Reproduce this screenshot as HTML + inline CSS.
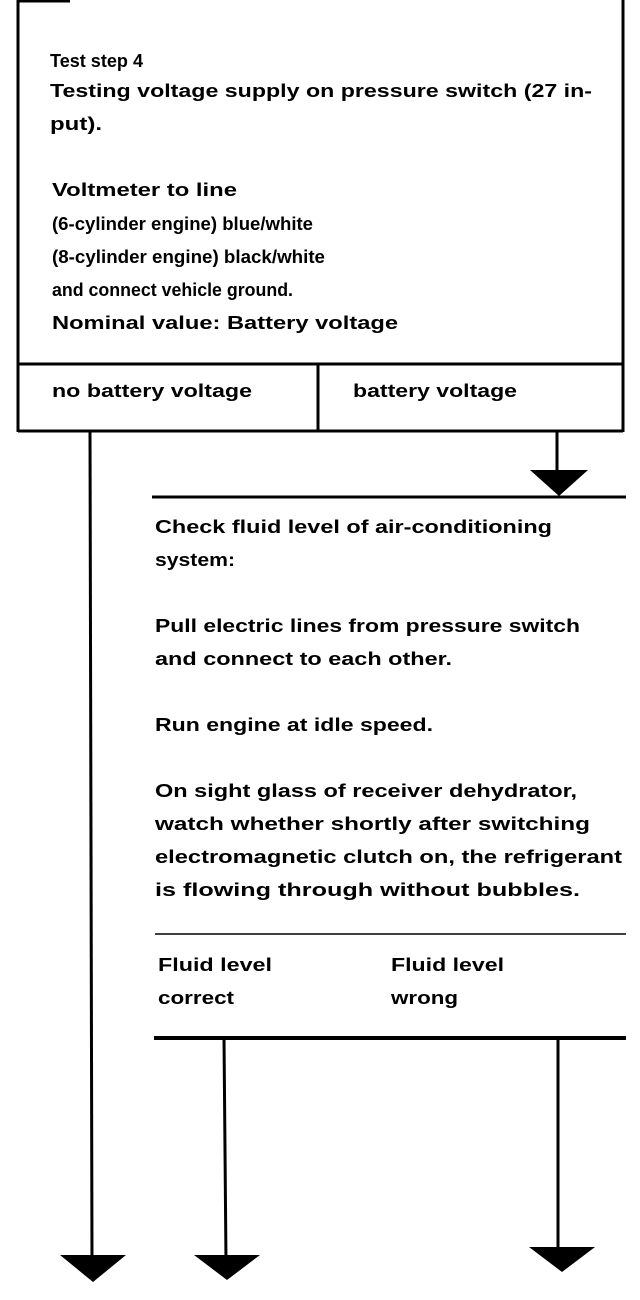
<!DOCTYPE html>
<html><head><meta charset="utf-8"><style>
html,body{margin:0;padding:0;background:#fff;}
svg{display:block}
text{font-family:"Liberation Sans",Arial,sans-serif;font-weight:bold;font-size:18px;fill:#000}
</style></head><body>
<svg width="640" height="1300" viewBox="0 0 640 1300" xmlns="http://www.w3.org/2000/svg">
<g stroke="#000" fill="none">
<line x1="18" y1="1" x2="70" y2="1" stroke-width="3"/>
<line x1="18" y1="0" x2="18" y2="432" stroke-width="3"/>
<line x1="623" y1="0" x2="623" y2="432" stroke-width="3"/>
<line x1="18" y1="364" x2="623" y2="364" stroke-width="3"/>
<line x1="18" y1="431" x2="623" y2="431" stroke-width="3"/>
<line x1="318" y1="364" x2="318" y2="431" stroke-width="3"/>
<line x1="90" y1="431" x2="92" y2="1262" stroke-width="3"/>
<line x1="557" y1="431" x2="557" y2="475" stroke-width="3"/>
<line x1="152" y1="497" x2="626" y2="497" stroke-width="3"/>
<line x1="155" y1="934" x2="626" y2="934" stroke-width="1.5"/>
<line x1="154" y1="1038" x2="626" y2="1038" stroke-width="4"/>
<line x1="224" y1="1038" x2="226" y2="1262" stroke-width="3"/>
<line x1="558" y1="1038" x2="558" y2="1252" stroke-width="3"/>
</g>
<g fill="#000">
<polygon points="530,470 588,470 559,496"/>
<polygon points="60,1255 126,1255 93,1282"/>
<polygon points="194,1255 260,1255 227,1280"/>
<polygon points="529,1247 595,1247 562,1272"/>
</g>
<g lengthAdjust="spacingAndGlyphs">
<text x="50" y="67" textLength="93" lengthAdjust="spacingAndGlyphs">Test step 4</text>
<text x="50" y="97" textLength="542" lengthAdjust="spacingAndGlyphs">Testing voltage supply on pressure switch (27 in-</text>
<text x="50" y="130" textLength="52" lengthAdjust="spacingAndGlyphs">put).</text>
<text x="52" y="196" textLength="185" lengthAdjust="spacingAndGlyphs">Voltmeter to line</text>
<text x="52" y="230" textLength="261" lengthAdjust="spacingAndGlyphs">(6-cylinder engine) blue/white</text>
<text x="52" y="263" textLength="273" lengthAdjust="spacingAndGlyphs">(8-cylinder engine) black/white</text>
<text x="52" y="296" textLength="241" lengthAdjust="spacingAndGlyphs">and connect vehicle ground.</text>
<text x="52" y="329" textLength="346" lengthAdjust="spacingAndGlyphs">Nominal value: Battery voltage</text>
<text x="52" y="397" textLength="200" lengthAdjust="spacingAndGlyphs">no battery voltage</text>
<text x="353" y="397" textLength="164" lengthAdjust="spacingAndGlyphs">battery voltage</text>
<text x="155" y="533" textLength="397" lengthAdjust="spacingAndGlyphs">Check fluid level of air-conditioning</text>
<text x="155" y="566" textLength="80" lengthAdjust="spacingAndGlyphs">system:</text>
<text x="155" y="632" textLength="425" lengthAdjust="spacingAndGlyphs">Pull electric lines from pressure switch</text>
<text x="155" y="665" textLength="297" lengthAdjust="spacingAndGlyphs">and connect to each other.</text>
<text x="155" y="731" textLength="278" lengthAdjust="spacingAndGlyphs">Run engine at idle speed.</text>
<text x="155" y="797" textLength="422" lengthAdjust="spacingAndGlyphs">On sight glass of receiver dehydrator,</text>
<text x="155" y="830" textLength="435" lengthAdjust="spacingAndGlyphs">watch whether shortly after switching</text>
<text x="155" y="863" textLength="467" lengthAdjust="spacingAndGlyphs">electromagnetic clutch on, the refrigerant</text>
<text x="155" y="896" textLength="425" lengthAdjust="spacingAndGlyphs">is flowing through without bubbles.</text>
<text x="158" y="971" textLength="114" lengthAdjust="spacingAndGlyphs">Fluid level</text>
<text x="158" y="1004" textLength="76" lengthAdjust="spacingAndGlyphs">correct</text>
<text x="391" y="971" textLength="113" lengthAdjust="spacingAndGlyphs">Fluid level</text>
<text x="391" y="1004" textLength="67" lengthAdjust="spacingAndGlyphs">wrong</text>
</g>
</svg>
</body></html>
